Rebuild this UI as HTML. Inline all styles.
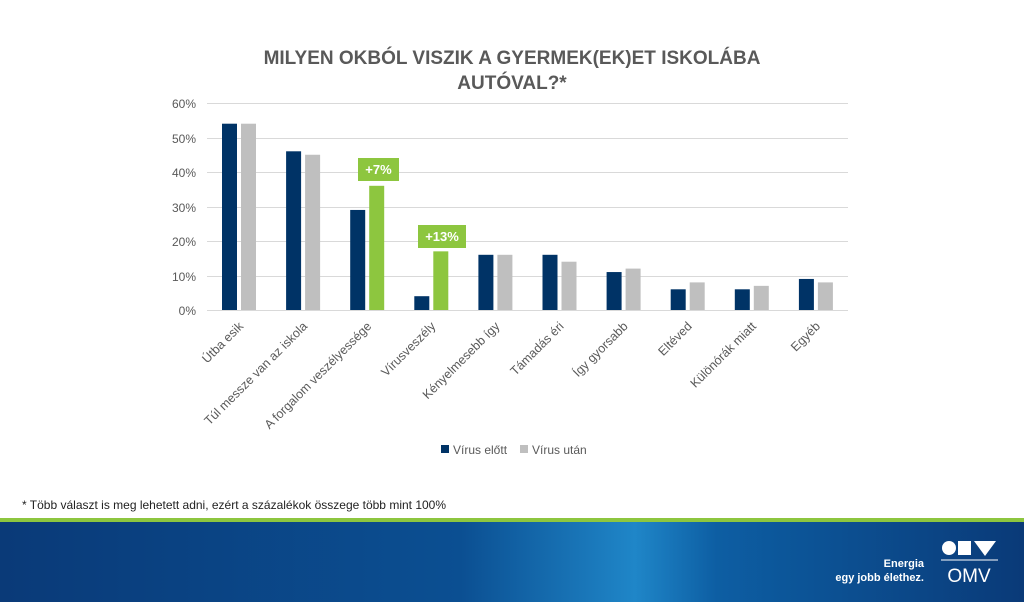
<!DOCTYPE html>
<html><head><meta charset="utf-8"><style>
html,body{margin:0;padding:0;background:#fff;}
body{width:1024px;height:602px;overflow:hidden;position:relative;font-family:"Liberation Sans",Arial,sans-serif;}
</style></head><body>
<svg width="1024" height="602" viewBox="0 0 1024 602" xmlns="http://www.w3.org/2000/svg" style="position:absolute;left:0;top:0">
<defs>
<linearGradient id="bg" x1="0" x2="1" y1="0" y2="0">
<stop offset="0" stop-color="#0a3a78"/>
<stop offset="0.45" stop-color="#0b4f92"/>
<stop offset="0.62" stop-color="#1f86c8"/>
<stop offset="0.7" stop-color="#0d5ea3"/>
<stop offset="1" stop-color="#0a3a78"/>
</linearGradient>
</defs>
<text x="512" y="64" text-anchor="middle" font-size="19" font-weight="bold" fill="#595959">MILYEN OKBÓL VISZIK A GYERMEK(EK)ET ISKOLÁBA</text>
<text x="512" y="89" text-anchor="middle" font-size="19" font-weight="bold" fill="#595959">AUTÓVAL?*</text>
<g stroke="#d9d9d9" stroke-width="1">
<line x1="207" x2="848" y1="103.5" y2="103.5"/>
<line x1="207" x2="848" y1="138.5" y2="138.5"/>
<line x1="207" x2="848" y1="172.5" y2="172.5"/>
<line x1="207" x2="848" y1="207.5" y2="207.5"/>
<line x1="207" x2="848" y1="241.5" y2="241.5"/>
<line x1="207" x2="848" y1="276.5" y2="276.5"/>
<line x1="207" x2="848" y1="310.5" y2="310.5"/>
</g>
<g font-size="12" fill="#595959" text-anchor="end">
<text x="196" y="108">60%</text><text x="196" y="143">50%</text><text x="196" y="177">40%</text>
<text x="196" y="212">30%</text><text x="196" y="246">20%</text><text x="196" y="281">10%</text><text x="196" y="315">0%</text>
</g>
<g id="bars"></g>
<g id="labels" font-size="12" fill="#595959" text-anchor="end"></g>
<rect x="358" y="158" width="41" height="23" fill="#8dc63f"/>
<text x="378.5" y="174" text-anchor="middle" font-size="13" font-weight="bold" fill="#fff">+7%</text>
<rect x="418" y="225" width="48" height="23" fill="#8dc63f"/>
<text x="442" y="241" text-anchor="middle" font-size="13" font-weight="bold" fill="#fff">+13%</text>
<rect x="441" y="445" width="8" height="8" fill="#003366"/>
<text x="453" y="454" font-size="12" fill="#595959">Vírus előtt</text>
<rect x="520" y="445" width="8" height="8" fill="#bfbfbf"/>
<text x="532" y="454" font-size="12" fill="#595959">Vírus után</text>
<text x="22" y="509" font-size="12" fill="#222">* Több választ is meg lehetett adni, ezért a százalékok összege több mint 100%</text>
<rect x="0" y="518" width="1024" height="4" fill="#8dc63f"/>
<rect x="0" y="522" width="1024" height="80" fill="url(#bg)"/>
<text x="924" y="567" text-anchor="end" font-size="11" font-weight="bold" fill="#fff">Energia</text>
<text x="924" y="581" text-anchor="end" font-size="11" font-weight="bold" fill="#fff">egy jobb élethez.</text>
<circle cx="949" cy="548" r="7" fill="#fff"/>
<rect x="958" y="541" width="13" height="14" fill="#fff"/>
<polygon points="974,541 996,541 985,556" fill="#fff"/>
<line x1="941" x2="998" y1="560" y2="560" stroke="#fff" stroke-width="1"/>
<text x="969" y="582" text-anchor="middle" font-size="19" fill="#fff">OMV</text>
</svg>
<script>
var d=[["Útba esik",54,54,0],["Túl messze van az iskola",46,45,0],["A forgalom veszélyessége",29,36,1],["Vírusveszély",4,17,1],["Kényelmesebb így",16,16,0],["Támadás éri",16,14,0],["Így gyorsabb",11,12,0],["Eltéved",6,8,0],["Különórák miatt",6,7,0],["Egyéb",9,8,0]];
var ns="http://www.w3.org/2000/svg",b=document.getElementById("bars"),l=document.getElementById("labels");
d.forEach(function(r,i){var c=207+64.1*i+32;
function bar(x,v,col){var e=document.createElementNS(ns,"rect");var h=v*3.45;e.setAttribute("x",x);e.setAttribute("y",310-h);e.setAttribute("width",15);e.setAttribute("height",h);e.setAttribute("fill",col);b.appendChild(e);}
bar(c-17,r[1],"#003366");bar(c+2,r[2],r[3]?"#8dc63f":"#bfbfbf");
var t=document.createElementNS(ns,"text");t.setAttribute("transform","translate("+(c+5)+",327) rotate(-45)");t.setAttribute("font-size","12.5");t.textContent=r[0];l.appendChild(t);});
</script>
</body></html>
